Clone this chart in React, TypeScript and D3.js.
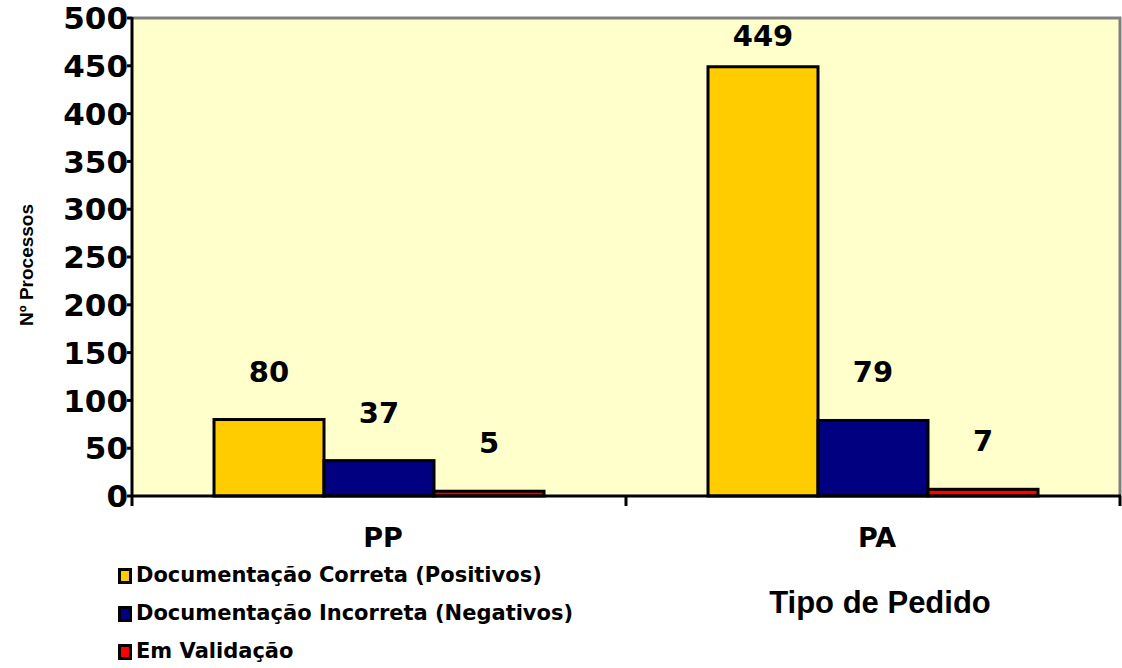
import React from "react";
import * as d3 from "d3";

const categories = ["PP", "PA"];
const seriesNames = [
  "Documentação Correta (Positivos)",
  "Documentação Incorreta (Negativos)",
  "Em Validação",
];
const correta = [80, 449];
const incorreta = [37, 79];
const validacao = [5, 7];
const yTicks = [0, 50, 100, 150, 200, 250, 300, 350, 400, 450, 500];
const colors = ["#FFCC00", "#000080", "#FF0000"];

const W = 1122;
const H = 668;
const left = 132;
const right = 1120;
const top = 18;
const bottom = 496;
const verdana = "Verdana, 'DejaVu Sans', sans-serif";
const arial = "Arial, 'Liberation Sans', sans-serif";

export default function App() {
  const values = [correta, incorreta, validacao];
  const y = d3.scaleLinear().domain([0, 500]).range([bottom, top]);
  const x0 = d3
    .scaleBand<string>()
    .domain(categories)
    .range([left, right])
    .paddingInner(0.332)
    .paddingOuter(0.166);
  const x1 = d3
    .scaleBand<string>()
    .domain(seriesNames)
    .range([0, x0.bandwidth()]);
  const slot = d3.scaleBand<string>().domain(categories).range([left, right]);

  return (
    <svg
      width={W}
      height={H}
      style={{ position: "absolute", left: 0, top: 0 }}
      xmlns="http://www.w3.org/2000/svg"
    >
      <rect x={0} y={0} width={W} height={H} fill="#ffffff" />
      <rect
        x={left}
        y={top}
        width={right - left}
        height={bottom - top}
        fill="#FFFFCC"
      />
      {/* gray border top & right */}
      <path
        d={`M${left},${top} H${right} V${bottom}`}
        fill="none"
        stroke="#808080"
        strokeWidth={3}
      />
      {/* bars */}
      {categories.map((c, ci) =>
        seriesNames.map((s, si) => {
          const v = values[si][ci];
          const bx = (x0(c) ?? 0) + (x1(s) ?? 0);
          return (
            <rect
              key={c + s}
              x={bx}
              y={y(v)}
              width={x1.bandwidth()}
              height={bottom - y(v)}
              fill={colors[si]}
              stroke="#000"
              strokeWidth={3}
            />
          );
        })
      )}
      {/* value labels */}
      {categories.map((c, ci) =>
        seriesNames.map((s, si) => {
          const v = values[si][ci];
          const cx = (x0(c) ?? 0) + (x1(s) ?? 0) + x1.bandwidth() / 2;
          const by = Math.max(y(v) - 38, 46);
          return (
            <text
              key={"l" + c + s}
              x={cx}
              y={by}
              textAnchor="middle"
              fontFamily={verdana}
              fontWeight="bold"
              fontSize={29}
              fill="#000"
            >
              {v}
            </text>
          );
        })
      )}
      {/* axes */}
      <line x1={left} y1={top - 1} x2={left} y2={bottom} stroke="#000" strokeWidth={3} />
      <line x1={left - 1} y1={bottom} x2={right + 1} y2={bottom} stroke="#000" strokeWidth={3} />
      {yTicks.map((t) => (
        <g key={"yt" + t}>
          <line x1={left - 5} y1={y(t)} x2={left} y2={y(t)} stroke="#000" strokeWidth={3} />
          <text
            x={left - 4}
            y={y(t)}
            dy="0.36em"
            textAnchor="end"
            fontFamily={verdana}
            fontWeight="bold"
            fontSize={31}
            fill="#000"
          >
            {t}
          </text>
        </g>
      ))}
      {[...categories.map((c) => slot(c) ?? 0), right].map((tx, i) => (
        <line key={"xt" + i} x1={tx} y1={bottom} x2={tx} y2={bottom + 10} stroke="#000" strokeWidth={3} />
      ))}
      {categories.map((c) => (
        <text
          key={"xl" + c}
          x={(slot(c) ?? 0) + slot.bandwidth() / 2 + 4}
          y={547}
          textAnchor="middle"
          fontFamily={verdana}
          fontWeight="bold"
          fontSize={27}
          fill="#000"
        >
          {c}
        </text>
      ))}
      {/* axis titles */}
      <text
        x={880}
        y={613}
        textAnchor="middle"
        fontFamily={arial}
        fontWeight="bold"
        fontSize={31}
        fill="#000"
      >
        Tipo de Pedido
      </text>
      <text
        transform={`translate(33,265) rotate(-90)`}
        textAnchor="middle"
        fontFamily={arial}
        fontWeight="bold"
        fontSize={19}
        fill="#000"
      >
        Nº Processos
      </text>
      {/* legend */}
      {seriesNames.map((s, i) => {
        const base = 582 + i * 38;
        return (
          <g key={"lg" + s}>
            <rect
              x={119.5}
              y={base - 12.5}
              width={11}
              height={13}
              fill={colors[i]}
              stroke="#000"
              strokeWidth={3}
            />
            <text
              x={136}
              y={base}
              fontFamily={verdana}
              fontWeight="bold"
              fontSize={21}
              fill="#000"
            >
              {s}
            </text>
          </g>
        );
      })}
    </svg>
  );
}
